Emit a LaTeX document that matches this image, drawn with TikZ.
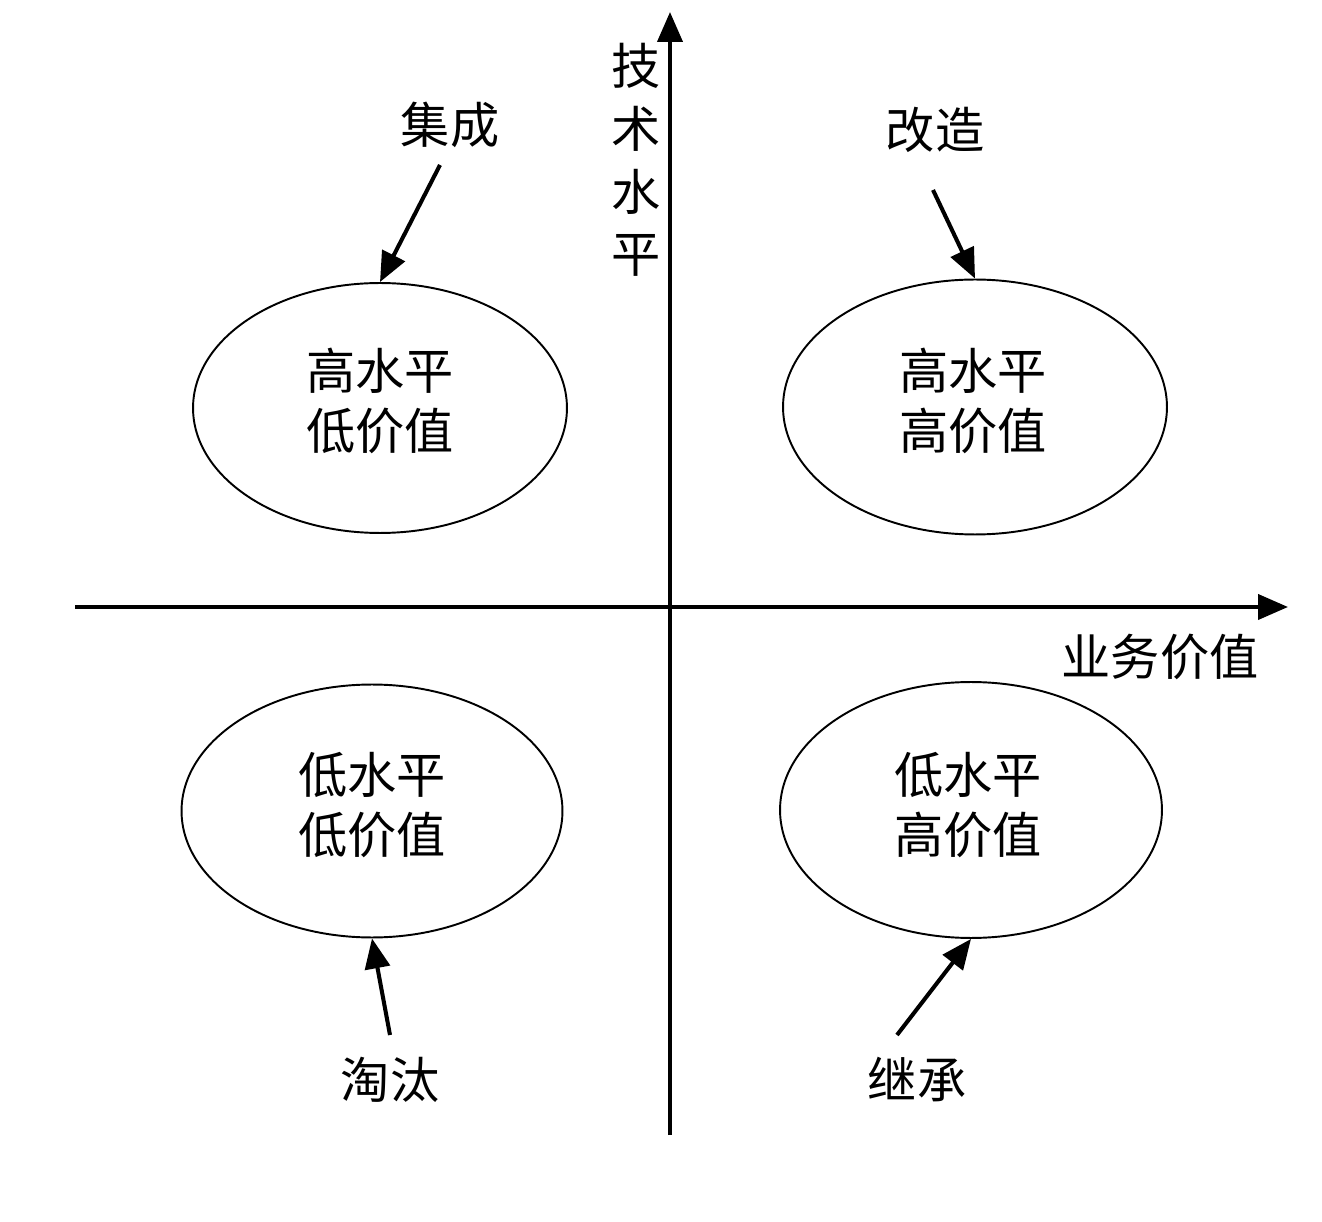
\documentclass[tikz,border=0pt]{standalone}
\usepackage{fontspec}
\newfontfamily\cjk{Noto Sans CJK SC}
\usetikzlibrary{shapes.geometric,arrows.meta}
\begin{document}
\begin{tikzpicture}[x=0.02cm,y=-0.02cm,
  lbl/.style={font=\cjk\fontsize{28}{34}\selectfont, inner sep=0pt, align=center},
  oval/.style={ellipse, draw, line width=1.1pt, inner sep=0pt},
  axis/.style={line width=2.3pt, -{Triangle[length=0.6cm,width=0.5cm]}},
  arr/.style={line width=2.3pt, -{Triangle[length=0.6cm,width=0.5cm]}}]
\useasboundingbox (0,0) rectangle (1322,1222);
% axes
\coordinate (xs) at (75,607);
\coordinate (xe) at (1288,607);
\coordinate (ys) at (670,1135);
\coordinate (ye) at (670,12);
\draw[axis] (xs) -- (xe);
\draw[axis] (ys) -- (ye);
\node[lbl, font=\cjk\fontsize{28}{34}\selectfont, text width=1.2cm] (ylab) at (636,160) {技\\[0.06cm]术\\[0.06cm]水\\[0.06cm]平};
\node[lbl] (xlab) at (1160,657) {业务价值};
% ellipses
\node[oval, minimum width=7.48cm, minimum height=5.0cm] (tl) at (380,408) {};
\node[oval, minimum width=7.68cm, minimum height=5.1cm] (tr) at (975,407) {};
\node[oval, minimum width=7.62cm, minimum height=5.06cm] (bl) at (372,811) {};
\node[oval, minimum width=7.64cm, minimum height=5.12cm] (br) at (971,810) {};
\node[lbl] (tlt) at (380,401) {高水平\\低价值};
\node[lbl] (trt) at (973,401) {高水平\\高价值};
\node[lbl] (blt) at (372,805) {低水平\\低价值};
\node[lbl] (brt) at (968,805) {低水平\\高价值};
% labels
\node[lbl] (jc) at (450,125) {集成};
\node[lbl] (gz) at (935,130) {改造};
\node[lbl] (tt) at (390,1080) {淘汰};
\node[lbl] (jch) at (917,1080) {继承};
\coordinate (jcs) at (440,165);
\coordinate (gzs) at (933,190);
\coordinate (tts) at (390,1035);
\coordinate (jchs) at (897,1035);
\draw[arr] (jcs) -- (tl.north);
\draw[arr] (gzs) -- (tr.north);
\draw[arr] (tts) -- (bl.south);
\draw[arr] (jchs) -- (br.south);
\end{tikzpicture}
\end{document}
